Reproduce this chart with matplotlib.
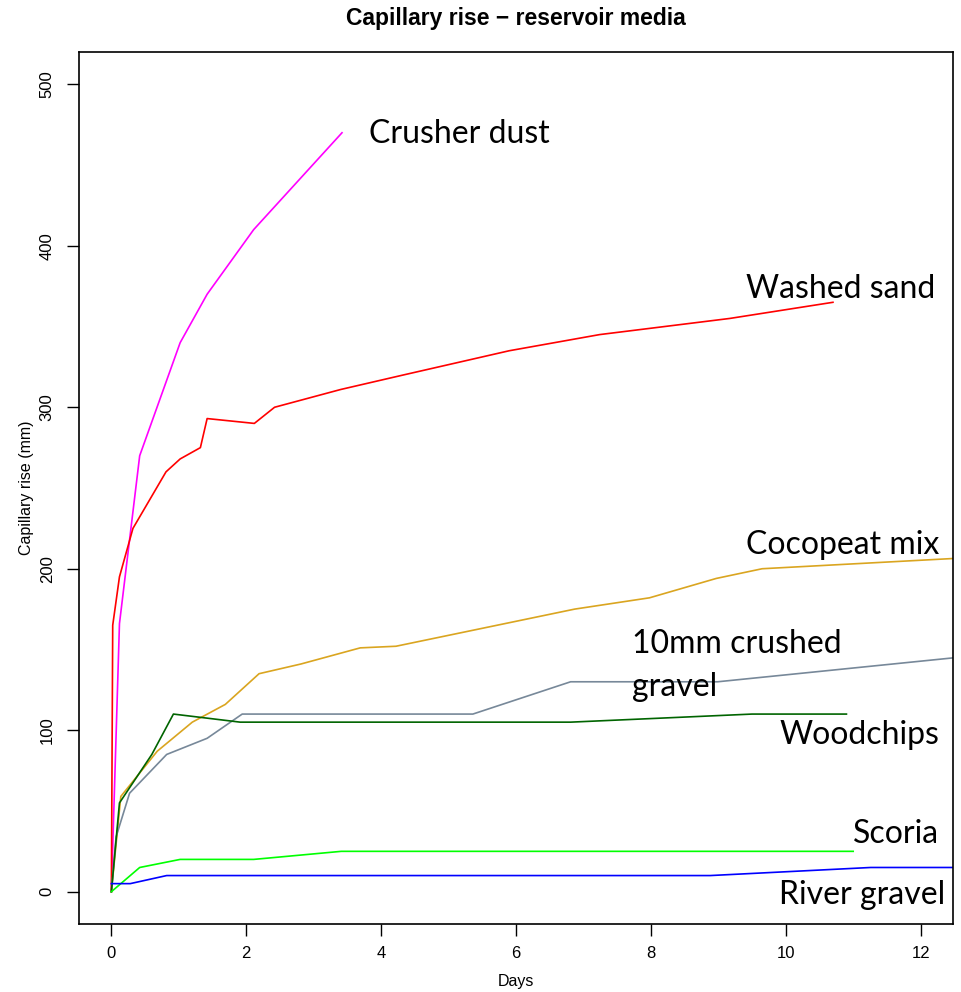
import matplotlib
matplotlib.use("Agg")
import matplotlib.pyplot as plt

# ---- data (days, capillary rise in mm) ----
crusher_days = [0, 0.12, 0.42, 1.02, 1.42, 2.11, 3.42]
crusher_mm   = [0, 166, 270, 340, 370, 410, 470]

sand_days = [0, 0.02, 0.12, 0.32, 0.81, 1.02, 1.32, 1.42, 2.12, 2.42, 3.4, 4.33, 5.9, 7.24, 9.17, 10.7]
sand_mm   = [0, 165, 195, 225, 260, 268, 275, 293, 290, 300, 311, 320, 335, 345, 355, 365]

coco_days = [0, 0.14, 0.68, 1.2, 1.69, 2.19, 2.81, 3.69, 4.22, 6.87, 7.98, 8.97, 9.65, 13]
coco_mm   = [0, 59, 87, 105, 116, 135, 141, 151, 152, 175, 182, 194, 200, 207.5]

gravel10_days = [0, 0.07, 0.27, 0.82, 1.42, 1.94, 5.36, 6.81, 8.99, 13]
gravel10_mm   = [0, 34, 61, 85, 95, 110, 110, 130, 130, 147]

wood_days = [0, 0.12, 0.6, 0.92, 1.91, 6.81, 9.5, 10.9]
wood_mm   = [0, 55, 85, 110, 105, 105, 110, 110]

scoria_days = [0, 0.42, 1.02, 2.11, 3.41, 11.0]
scoria_mm   = [0, 15, 20, 20, 25, 25]

river_days = [0, 0.28, 0.82, 8.88, 11.26, 13]
river_mm   = [5, 5, 10, 10, 15, 15]

SERIES = [
    (crusher_days,  crusher_mm,  "#FF00FF"),
    (sand_days,     sand_mm,     "#FF0000"),
    (coco_days,     coco_mm,     "#DAA520"),
    (gravel10_days, gravel10_mm, "#778899"),
    (wood_days,     wood_mm,     "#006400"),
    (scoria_days,   scoria_mm,   "#00FF00"),
    (river_days,    river_mm,    "#0000FF"),
]

# label text, anchor (days, mm) of the left edge / vertical centre
LABELS = [
    ("Crusher dust",          3.82, 469),
    ("Washed sand",           9.41, 373),
    ("Cocopeat mix",          9.41, 215),
    ("10mm crushed\ngravel",  7.72, 140),
    ("Woodchips",             9.91, 97),
    ("Scoria",                11.0, 36),
    ("River gravel",          9.90, -2),
]

plt.rcParams["font.family"] = ["Liberation Sans", "DejaVu Sans"]

fig = plt.figure(figsize=(9.61, 9.92), dpi=100)
ax = fig.add_axes([79 / 961, 1 - 924 / 992, (953 - 79) / 961, (924 - 52) / 992])

for xs, ys, col in SERIES:
    ax.plot(xs, ys, color=col, linewidth=1.2)

for txt, x, y in LABELS:
    ax.text(x, y, txt, fontsize=23, family=["Lato", "DejaVu Sans"],
            ha="left", va="center", linespacing=1.55)

ax.set_xlim(-0.48, 12.48)
ax.set_ylim(-20, 520)
ax.set_xticks(range(0, 13, 2))
ax.set_yticks(range(0, 501, 100))
ax.tick_params(direction="out", length=8.5, width=1.0, labelsize=12)
ax.tick_params(axis="x", pad=7)
ax.tick_params(axis="y", pad=9)
for lab in ax.get_yticklabels():
    lab.set_rotation(90)
    lab.set_va("center")
for side in ["top", "right", "left", "bottom"]:
    ax.spines[side].set_linewidth(1.2)

ax.set_xlabel("Days", fontsize=11.5, labelpad=10)
ax.set_ylabel("Capillary rise (mm)", fontsize=11.5, labelpad=4)
fig.suptitle("Capillary rise \u2212 reservoir media", fontsize=16.5, fontweight="bold",
             x=(79 + 953) / 2 / 961, y=1 - 18 / 992, va="center")

fig.savefig("out.png", dpi=100)
